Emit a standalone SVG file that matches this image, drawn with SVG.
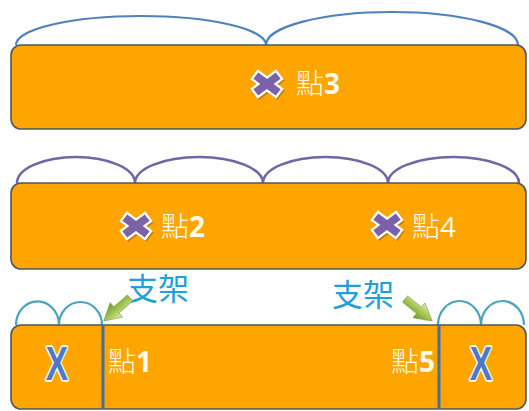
<svg xmlns="http://www.w3.org/2000/svg" width="529" height="411" viewBox="0 0 529 411">
<style>
.bar{fill:#FFA500;stroke:#4d5863;stroke-width:1.6}
.arc1{fill:none;stroke:#4f81bd;stroke-width:2.2}
.arc2{fill:none;stroke:#7466a4;stroke-width:2.6}
.arc3{fill:none;stroke:#4ba3bf;stroke-width:2.2}
.div{stroke:#41719c;stroke-width:3}
.lbl{font-family:"Noto Sans CJK TC","Noto Sans CJK SC",sans-serif;font-size:28px;font-weight:300;fill:#FFFBEA}
.num{font-family:"Open Sans","Liberation Sans",sans-serif;font-weight:bold}
.num4{font-family:"Open Sans","Liberation Sans",sans-serif;font-weight:normal}
.sup{font-family:"Noto Sans CJK TC","Noto Sans CJK SC",sans-serif;font-size:31px;fill:#1FA0D8}
.xl{font-family:"Liberation Sans",sans-serif;font-weight:bold;font-size:48px;fill:#4f79c8;stroke:#ffffff;stroke-width:3.4;paint-order:stroke;stroke-linejoin:round}
.arrow{fill:url(#ag);stroke:#7a9a3a;stroke-width:0.6}
</style>
<defs>
<linearGradient id="ag" x1="0" y1="0" x2="0" y2="1">
<stop offset="0" stop-color="#e2ecb4"/>
<stop offset="0.45" stop-color="#a9c95a"/>
<stop offset="1" stop-color="#6f9a2c"/>
</linearGradient>
<g id="cross">
<path d="M-8,-6L8,6M-8,6L8,-6" stroke="#000" stroke-opacity="0.25" stroke-width="12" stroke-linecap="square" transform="translate(1.2,1.5)"/>
<path d="M-8,-6L8,6M-8,6L8,-6" stroke="#ffffff" stroke-width="12.5" stroke-linecap="square"/>
<path d="M-8,-6L8,6M-8,6L8,-6" stroke="#7B62A8" stroke-width="8" stroke-linecap="square"/>
</g>
</defs>

<g id="connectors">
<path class="arc1" d="M16,45 A125,29 0 0 1 266,45"/>
<path class="arc1" d="M266,45 A126,33 0 0 1 518,45"/>
<path class="arc2" d="M17,183 A59,26 0 0 1 135,183"/>
<path class="arc2" d="M135,183 A64,26 0 0 1 263,183"/>
<path class="arc2" d="M263,183 A62.5,26 0 0 1 388,183"/>
<path class="arc2" d="M388,183 A65.5,26 0 0 1 519,183"/>
<path class="arc3" d="M16,325 A21,23 0 0 1 59,325"/>
<path class="arc3" d="M59,325 A21.5,23 0 0 1 102,325"/>
<path class="arc3" d="M438,325 A21.5,24 0 0 1 481,325"/>
<path class="arc3" d="M481,325 A21.5,24 0 0 1 524,325"/>
</g>

<g id="bar-top">
<rect class="bar" x="11" y="45" width="515" height="84" rx="10"/>
<use href="#cross" x="267" y="84"/>
<text class="lbl" x="296" y="94">點<tspan class="num">3</tspan></text>
</g>

<g id="bar-middle">
<rect class="bar" x="11" y="183" width="515" height="86" rx="10"/>
<use href="#cross" x="136" y="226"/>
<text class="lbl" x="161" y="237">點<tspan class="num">2</tspan></text>
<use href="#cross" x="387" y="225"/>
<text class="lbl" x="412" y="237">點<tspan class="num4">4</tspan></text>
</g>

<g id="bar-bottom">
<rect class="bar" x="11" y="325" width="515" height="84" rx="10"/>
<line class="div" x1="103" y1="325" x2="103" y2="409"/>
<line class="div" x1="439" y1="325" x2="439" y2="409"/>
<text class="xl" transform="translate(57,380) scale(0.7,1)" text-anchor="middle">X</text>
<text class="xl" transform="translate(481,380) scale(0.7,1)" text-anchor="middle">X</text>
<text class="lbl" x="108" y="372">點<tspan class="num">1</tspan></text>
<text class="lbl" x="391" y="372">點<tspan class="num">5</tspan></text>
</g>

<g id="support-left">
<text class="sup" x="127" y="300">支架</text>
<polygon class="arrow" transform="translate(130,298) rotate(138.7)" points="0,-4 18,-4 18,-9.5 35,0 18,9.5 18,4 0,4"/>
</g>

<g id="support-right">
<text class="sup" x="332" y="306">支架</text>
<polygon class="arrow" transform="translate(405,299) rotate(39)" points="0,-4 18,-4 18,-9.5 35,0 18,9.5 18,4 0,4"/>
</g>
</svg>
